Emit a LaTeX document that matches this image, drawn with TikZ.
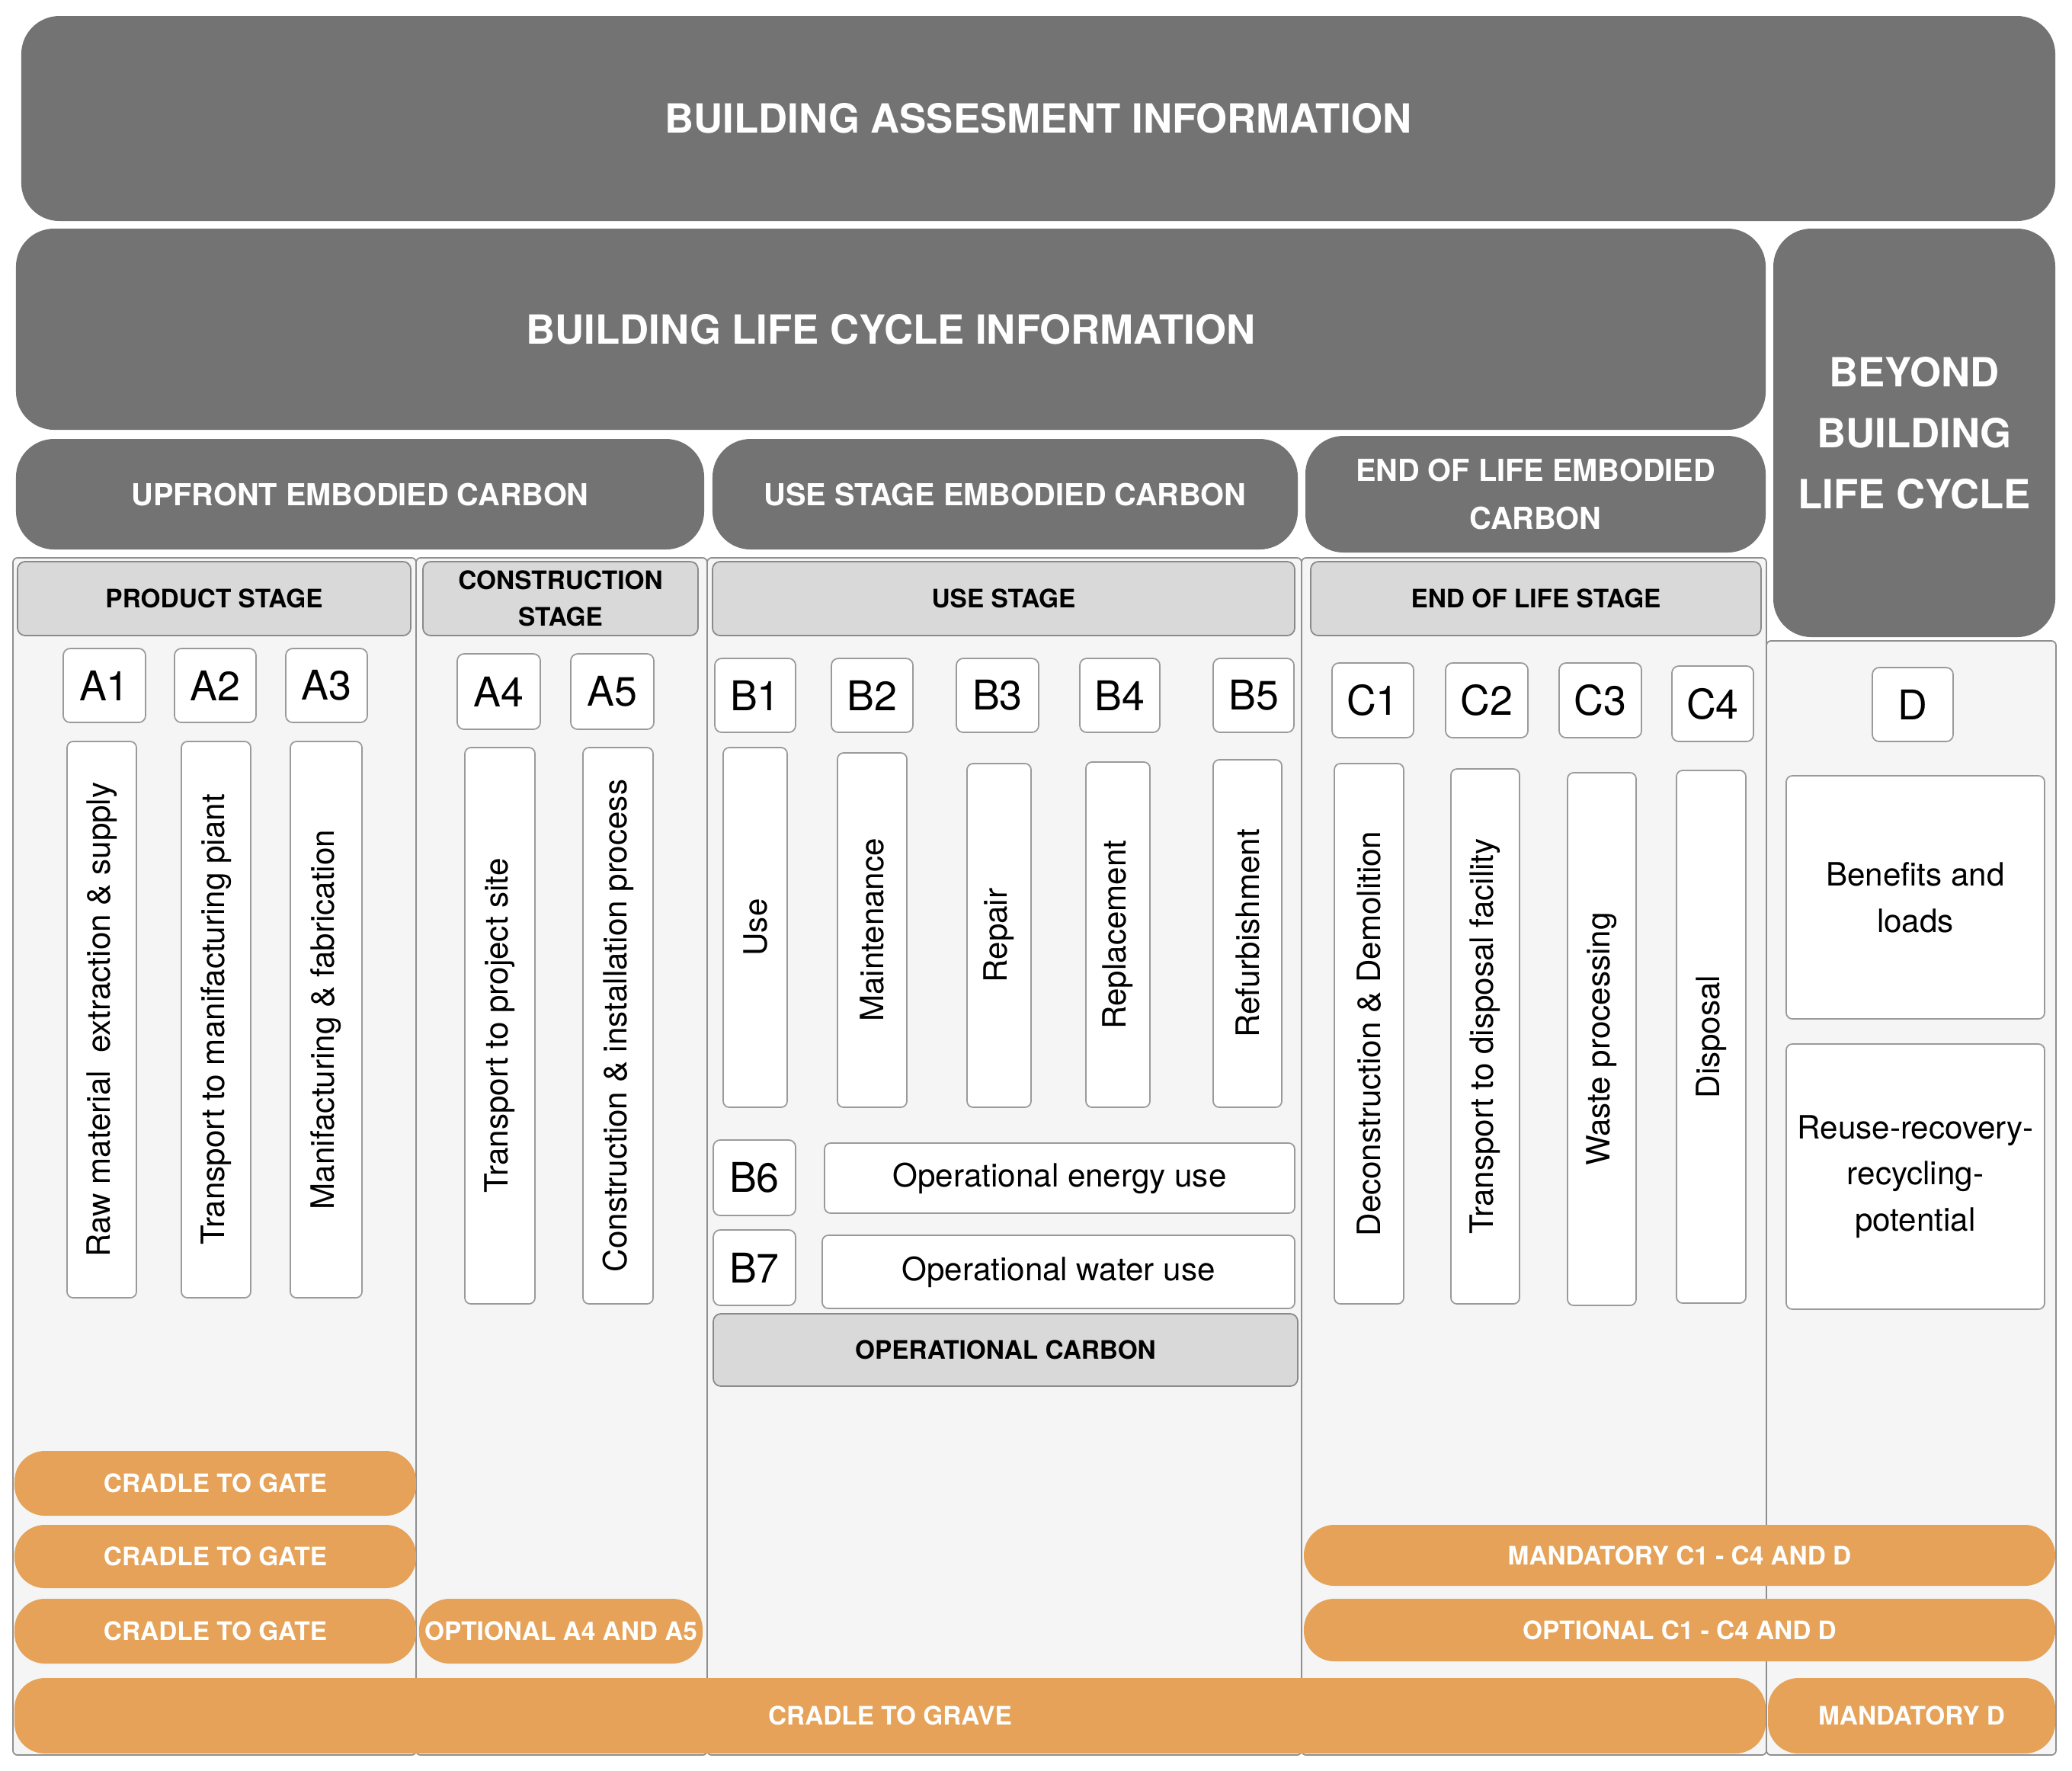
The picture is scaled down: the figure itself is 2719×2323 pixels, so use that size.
\documentclass[tikz,border=0pt]{standalone}
\usepackage{fontspec}
\setmainfont{TeX Gyre Heros}
\definecolor{darkg}{HTML}{737373}
\definecolor{hdrg}{HTML}{D9D9D9}
\definecolor{hdrb}{HTML}{8A8A8A}
\definecolor{boxb}{HTML}{9A9A9A}
\definecolor{panelg}{HTML}{F5F5F5}
\definecolor{panelb}{HTML}{8F8F8F}
\definecolor{orangec}{HTML}{E5A258}
\newcommand\mybox[8][]{%
  \pgfmathsetmacro\myW{(#5-#3)*0.1}%
  \pgfmathsetmacro\myH{(#6-#4)*0.1}%
  \node[#2,minimum width=\myW mm,minimum height=\myH mm,#1] (#7) at ({(#3+#5)/2},{(#4+#6)/2}) {#8};}
\newcommand\myvbox[8][]{%
  \pgfmathsetmacro\myW{(#5-#3)*0.1}%
  \pgfmathsetmacro\myH{(#6-#4)*0.1}%
  \node[#2,rotate=90,minimum width=\myH mm,minimum height=\myW mm,#1] (#7) at ({(#3+#5)/2},{(#4+#6)/2}) {#8};}
\tikzset{
  base/.style={inner sep=0pt,outer sep=0pt,align=center},
  darkbox/.style={base,fill=darkg,rounded corners=5mm,text=white,font=\bfseries\fontsize{15}{22.8}\selectfont},
  midbox/.style={darkbox,font=\bfseries\fontsize{11.3}{17.7}\selectfont},
  hdr/.style={base,fill=hdrg,draw=hdrb,line width=0.5pt,rounded corners=1mm,font=\bfseries\fontsize{9.5}{13.8}\selectfont},
  codebox/.style={base,fill=white,draw=boxb,line width=0.5pt,rounded corners=0.9mm,font=\fontsize{15.3}{17}\selectfont},
  lbl/.style={base,fill=white,draw=boxb,line width=0.5pt,rounded corners=0.8mm,font=\fontsize{12}{17.3}\selectfont},
  panel/.style={base,fill=panelg,draw=panelb,line width=0.5pt,rounded corners=0.6mm},
  bar/.style={base,fill=orangec,rounded corners=4mm,text=white,font=\bfseries\fontsize{9.5}{11}\selectfont}
}
\begin{document}
\begin{tikzpicture}[x=0.1mm,y=-0.1mm]
\path[fill=white,use as bounding box] (0,0) rectangle (2719,2323);
% top dark boxes
\mybox{darkbox}{28}{21}{2697}{290}{bai}{BUILDING ASSESMENT INFORMATION}
\mybox{darkbox}{21}{300}{2317}{564}{blci}{BUILDING LIFE CYCLE INFORMATION}
\mybox{darkbox}{2327}{300}{2697}{836}{beyond}{BEYOND\\BUILDING\\LIFE CYCLE}
\mybox{midbox}{21}{576}{924}{721}{upfront}{UPFRONT EMBODIED CARBON}
\mybox{midbox}{935}{576}{1703}{721}{usec}{USE STAGE EMBODIED CARBON}
\mybox{midbox}{1713}{572}{2317}{725}{eolc}{END OF LIFE EMBODIED\\CARBON}
% panels
\mybox{panel}{17}{732}{546}{2303}{p1}{}
\mybox{panel}{546}{732}{928}{2303}{p2}{}
\mybox{panel}{928}{732}{1708}{2303}{p3}{}
\mybox{panel}{1708}{732}{2318}{2303}{p4}{}
\mybox{panel}{2318}{841}{2698}{2303}{p5}{}
% stage headers
\mybox{hdr}{23}{737}{539}{834}{hprod}{PRODUCT STAGE}
\mybox{hdr}{555}{737}{916}{834}{hcons}{CONSTRUCTION\\STAGE}
\mybox{hdr}{935}{737}{1699}{834}{huse}{USE STAGE}
\mybox{hdr}{1720}{737}{2311}{834}{heol}{END OF LIFE STAGE}
% codes
\mybox{codebox}{83}{851}{191}{948}{a1}{A1}
\mybox{codebox}{229}{851}{336}{948}{a2}{A2}
\mybox{codebox}{375}{851}{482}{948}{a3}{A3}
\mybox{codebox}{600}{858}{709}{957}{a4}{A4}
\mybox{codebox}{749}{858}{858}{957}{a5}{A5}
\mybox{codebox}{938}{864}{1044}{961}{b1}{B1}
\mybox{codebox}{1091}{864}{1198}{961}{b2}{B2}
\mybox{codebox}{1255}{864}{1363}{961}{b3}{B3}
\mybox{codebox}{1417}{864}{1522}{961}{b4}{B4}
\mybox{codebox}{1592}{864}{1698}{961}{b5}{B5}
\mybox{codebox}{1748}{870}{1855}{968}{c1}{C1}
\mybox{codebox}{1897}{870}{2005}{968}{c2}{C2}
\mybox{codebox}{2046}{870}{2154}{968}{c3}{C3}
\mybox{codebox}{2194}{874}{2301}{973}{c4}{C4}
\mybox{codebox}{2457}{876}{2563}{973}{d}{D}
\mybox{codebox}{936}{1496}{1044}{1595}{b6}{B6}
\mybox{codebox}{936}{1614}{1044}{1713}{b7}{B7}
% vertical labels
\myvbox{lbl}{88}{973}{179}{1703}{la1}{Raw material\ \ extraction \& supply}
\myvbox{lbl}{238}{973}{329}{1703}{la2}{Transport to manifacturing piant}
\myvbox{lbl}{381}{973}{475}{1703}{la3}{Manifacturing \& fabrication}
\myvbox{lbl}{610}{981}{702}{1711}{la4}{Transport to project site}
\myvbox{lbl}{765}{981}{857}{1711}{la5}{Construction \& installation process}
\myvbox{lbl}{949}{981}{1033}{1453}{lb1}{Use}
\myvbox{lbl}{1099}{988}{1190}{1453}{lb2}{Maintenance}
\myvbox{lbl}{1269}{1002}{1353}{1453}{lb3}{Repair}
\myvbox{lbl}{1425}{1000}{1509}{1453}{lb4}{Replacement}
\myvbox{lbl}{1592}{997}{1682}{1453}{lb5}{Refurbishment}
\myvbox{lbl}{1751}{1002}{1842}{1711}{lc1}{Deconstruction \& Demolition}
\myvbox{lbl}{1904}{1009}{1994}{1711}{lc2}{Transport to disposal facility}
\myvbox{lbl}{2057}{1014}{2147}{1713}{lc3}{Waste processing}
\myvbox{lbl}{2200}{1011}{2291}{1710}{lc4}{Disposal}
% horizontal labels
\mybox{lbl}{1082}{1500}{1699}{1592}{lb6}{Operational energy use}
\mybox{lbl}{1079}{1621}{1699}{1717}{lb7}{Operational water use}
\mybox{lbl}{2344}{1018}{2683}{1337}{ld1}{Benefits and\\loads}
\mybox{lbl}{2344}{1370}{2683}{1718}{ld2}{Reuse-recovery-\\recycling-\\potential}
\mybox{hdr}{936}{1724}{1703}{1819}{opc}{OPERATIONAL CARBON}
% orange bars
\mybox{bar}{19}{1904}{546}{1989}{ctg1}{CRADLE TO GATE}
\mybox{bar}{19}{2001}{546}{2084}{ctg2}{CRADLE TO GATE}
\mybox{bar}{19}{2098}{546}{2183}{ctg3}{CRADLE TO GATE}
\mybox{bar}{550}{2098}{922}{2183}{opta}{OPTIONAL A4 AND A5}
\mybox{bar}{1711}{2001}{2697}{2081}{mandc}{MANDATORY C1 - C4 AND D}
\mybox{bar}{1711}{2098}{2697}{2180}{optc}{OPTIONAL C1 - C4 AND D}
\mybox{bar}{19}{2202}{2317}{2301}{ctgr}{CRADLE TO GRAVE}
\mybox{bar}{2320}{2202}{2697}{2301}{mandd}{MANDATORY D}
\end{tikzpicture}
\end{document}
